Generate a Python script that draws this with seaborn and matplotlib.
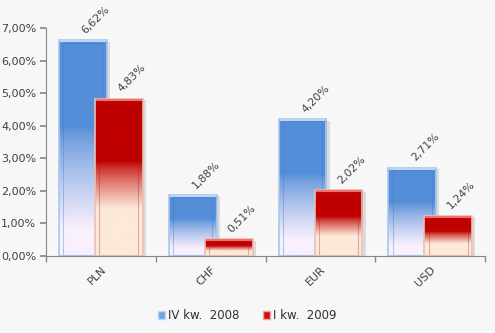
import numpy as np
import pandas as pd
import matplotlib
matplotlib.use("Agg")
import matplotlib.pyplot as plt
import seaborn as sns
from matplotlib.colors import to_rgb
from matplotlib.patches import Rectangle, Patch

categories = ["PLN", "CHF", "EUR", "USD"]
series_names = ["IV kw.  2008", "I kw.  2009"]
values_q4_2008 = [6.62, 1.88, 4.20, 2.71]
values_q1_2009 = [4.83, 0.51, 2.02, 1.24]
y_ticks = [0, 1, 2, 3, 4, 5, 6, 7]

df = pd.DataFrame({
    "cat": categories * 2,
    "series": [series_names[0]] * 4 + [series_names[1]] * 4,
    "val": values_q4_2008 + values_q1_2009,
})

sns.set_theme(style="white")
plt.rcParams["font.family"] = ["DejaVu Sans"]
bg = "#f7f7f7"
fig = plt.figure(figsize=(4.95, 3.33), dpi=100, facecolor=bg)
ax = fig.add_axes([0.093, 0.231, 0.887, 0.685])
ax.set_facecolor(bg)

blue_top, blue_bot = "#558ed8", "#f9f0fd"
red_top, red_bot = "#c00000", "#fde9d9"
pal = {series_names[0]: blue_top, series_names[1]: red_top}

sns.barplot(data=df, x="cat", y="val", hue="series", palette=pal,
            order=categories, hue_order=series_names, width=0.656,
            ax=ax, legend=False, saturation=1)

def grad_img(top, bot, solid, fade, n=200):
    t = np.linspace(0, 1, n)  # 0 = top
    f = np.clip((t - solid) / (fade - solid), 0, 1)
    f = f ** 0.8
    c0 = np.array(to_rgb(top)); c1 = np.array(to_rgb(bot))
    cols = c0[None, :] * (1 - f[:, None]) + c1[None, :] * f[:, None]
    return cols[:, None, :]

patches = list(ax.patches)
ax.set_ylim(0, 7)
ax.set_xlim(-0.5, 3.5)
for i, p in enumerate(patches):
    is_blue = i < 4
    z = 1.0 if is_blue else 2.0
    cx = p.get_x() + p.get_width() / 2
    w = p.get_width() * 1.33
    p.set_x(cx - w / 2)
    p.set_width(w)
    h = p.get_height()
    x0 = p.get_x()
    # shadow
    sh = Rectangle((x0 + 0.03, 0), w, h - 0.04, facecolor="#bbbbbb",
                   alpha=0.45, edgecolor="none", zorder=z + 0.1)
    ax.add_patch(sh)
    if is_blue:
        img = grad_img(blue_top, blue_bot, 0.40, 0.88)
        edge, hl, inner_c = "#a9c6ee", "#bcd6f6", (0.25, 0.45, 0.75, 0.35)
    else:
        img = grad_img(red_top, red_bot, 0.40, 0.70)
        edge, hl, inner_c = "#e8c0b4", "#f07070", (0.6, 0.1, 0.1, 0.3)
    p.set_facecolor("none")
    p.set_edgecolor(edge)
    p.set_linewidth(1.2)
    p.set_zorder(z + 0.4)
    im = ax.imshow(img, extent=[x0, x0 + w, 0, h], aspect="auto",
                   zorder=z + 0.2, interpolation="bilinear")
    im.set_clip_path(p)
    # inner bevel
    inner = Rectangle((x0 + 0.04, 0.04), w - 0.08, h - 0.11, facecolor="none",
                      edgecolor=inner_c, linewidth=0.8, zorder=z + 0.3)
    ax.add_patch(inner)
    ax.plot([x0 + 0.01, x0 + w - 0.01], [h - 0.03, h - 0.03], color=hl,
            lw=1.5, zorder=z + 0.5, solid_capstyle="butt")
    # value label
    txt = f"{h:.2f}%".replace(".", ",")
    ax.text(cx + 0.04, h + 0.14, txt, rotation=45, rotation_mode="anchor",
            ha="left", va="bottom", fontsize=7.8, color="#404040", zorder=5)

ax.set_yticks(y_ticks)
ax.set_yticklabels([f"{v:.2f}%".replace(".", ",") for v in y_ticks],
                   fontsize=8, color="#404040")
ax.set_xticks(range(len(categories)))
ax.set_xticklabels(categories, rotation=45, ha="right", rotation_mode="anchor",
                   fontsize=8, color="#404040")
ax.set_xticks(np.arange(-0.5, 3.6, 1), minor=True)
ax.tick_params(axis="x", which="major", length=0, pad=6)
ax.tick_params(axis="x", which="minor", length=4, color="#888888", direction="out", bottom=True)
ax.tick_params(axis="y", length=4, color="#888888", direction="out", left=True, pad=3)
ax.set_xlabel("")
ax.set_ylabel("")
for s in ["top", "right"]:
    ax.spines[s].set_visible(False)
for s in ["left", "bottom"]:
    ax.spines[s].set_color("#888888")
    ax.spines[s].set_linewidth(0.8)
    ax.spines[s].set_zorder(6)

handles = [Patch(facecolor="#6fa3e6", edgecolor="#bcd6f6", label=series_names[0]),
           Patch(facecolor="#d01010", edgecolor="#f0a0a0", label=series_names[1])]
fig.legend(handles=handles, loc="center", bbox_to_anchor=(0.5, 0.052), ncol=2,
           frameon=False, fontsize=8.5, handlelength=0.55, handleheight=0.55,
           handletextpad=0.3, columnspacing=2.0, labelcolor="#303030")

fig.savefig("out.png", dpi=100, facecolor=bg)
